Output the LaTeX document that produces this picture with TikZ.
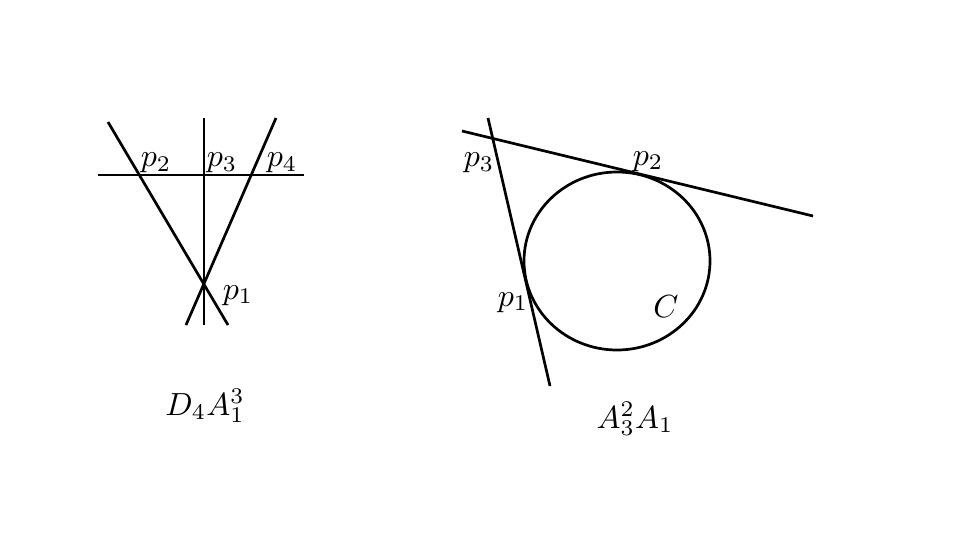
\documentclass[tikz,border=0pt]{standalone}
\begin{document}
\begin{tikzpicture}[x=1pt,y=-1pt,line width=2.7pt,
    lbl/.style={anchor=base,inner sep=0pt,scale=3.2}]
    \useasboundingbox (0,0) rectangle (960,540);

    %%%%%%%%%%%%%%%%%%% Left : four lines %%%%%%%%%%%%%%%%%%%%%%%%%%%
    \coordinate (hl) at (98,175);   \coordinate (hr) at (304,175);
    \coordinate (vt) at (204,118);  \coordinate (vb) at (204,325);
    \coordinate (at) at (108,122);  \coordinate (ab) at (228,325);
    \coordinate (bt) at (276,118);  \coordinate (bb) at (186,325);
    \draw (hl) -- (hr);
    \draw (vt) -- (vb);
    \draw (at) -- (ab);
    \draw (bt) -- (bb);

    \node (lp2) [lbl] at (156,167) {$p_2$};
    \node (lp3) [lbl] at (222,167) {$p_3$};
    \node (lp4) [lbl] at (282,167) {$p_4$};
    \node (lp1) [lbl] at (238,299) {$p_1$};
    \node (lname) [lbl] at (205,415) {$D_4A_1^3$};

    %%%%%%%%%%%%%%%%%%% Right : conic and two tangents %%%%%%%%%%%%%%
    \coordinate (cc) at (617,261);
    \draw (cc) ellipse [x radius=93,y radius=89];
    \coordinate (st) at (488,118);  \coordinate (sb) at (550,386);
    \coordinate (tl) at (462,131);  \coordinate (tr) at (813,216);
    \draw (st) -- (sb);
    \draw (tl) -- (tr);

    \node (rp3) [lbl] at (479,167) {$p_3$};
    \node (rp2) [lbl] at (648,165) {$p_2$};
    \node (rp1) [lbl] at (513,306) {$p_1$};
    \node (rc) [lbl] at (666,317) {$C$};
    \node (rname) [lbl] at (635,428) {$A_3^2A_1$};

\end{tikzpicture}
\end{document}
